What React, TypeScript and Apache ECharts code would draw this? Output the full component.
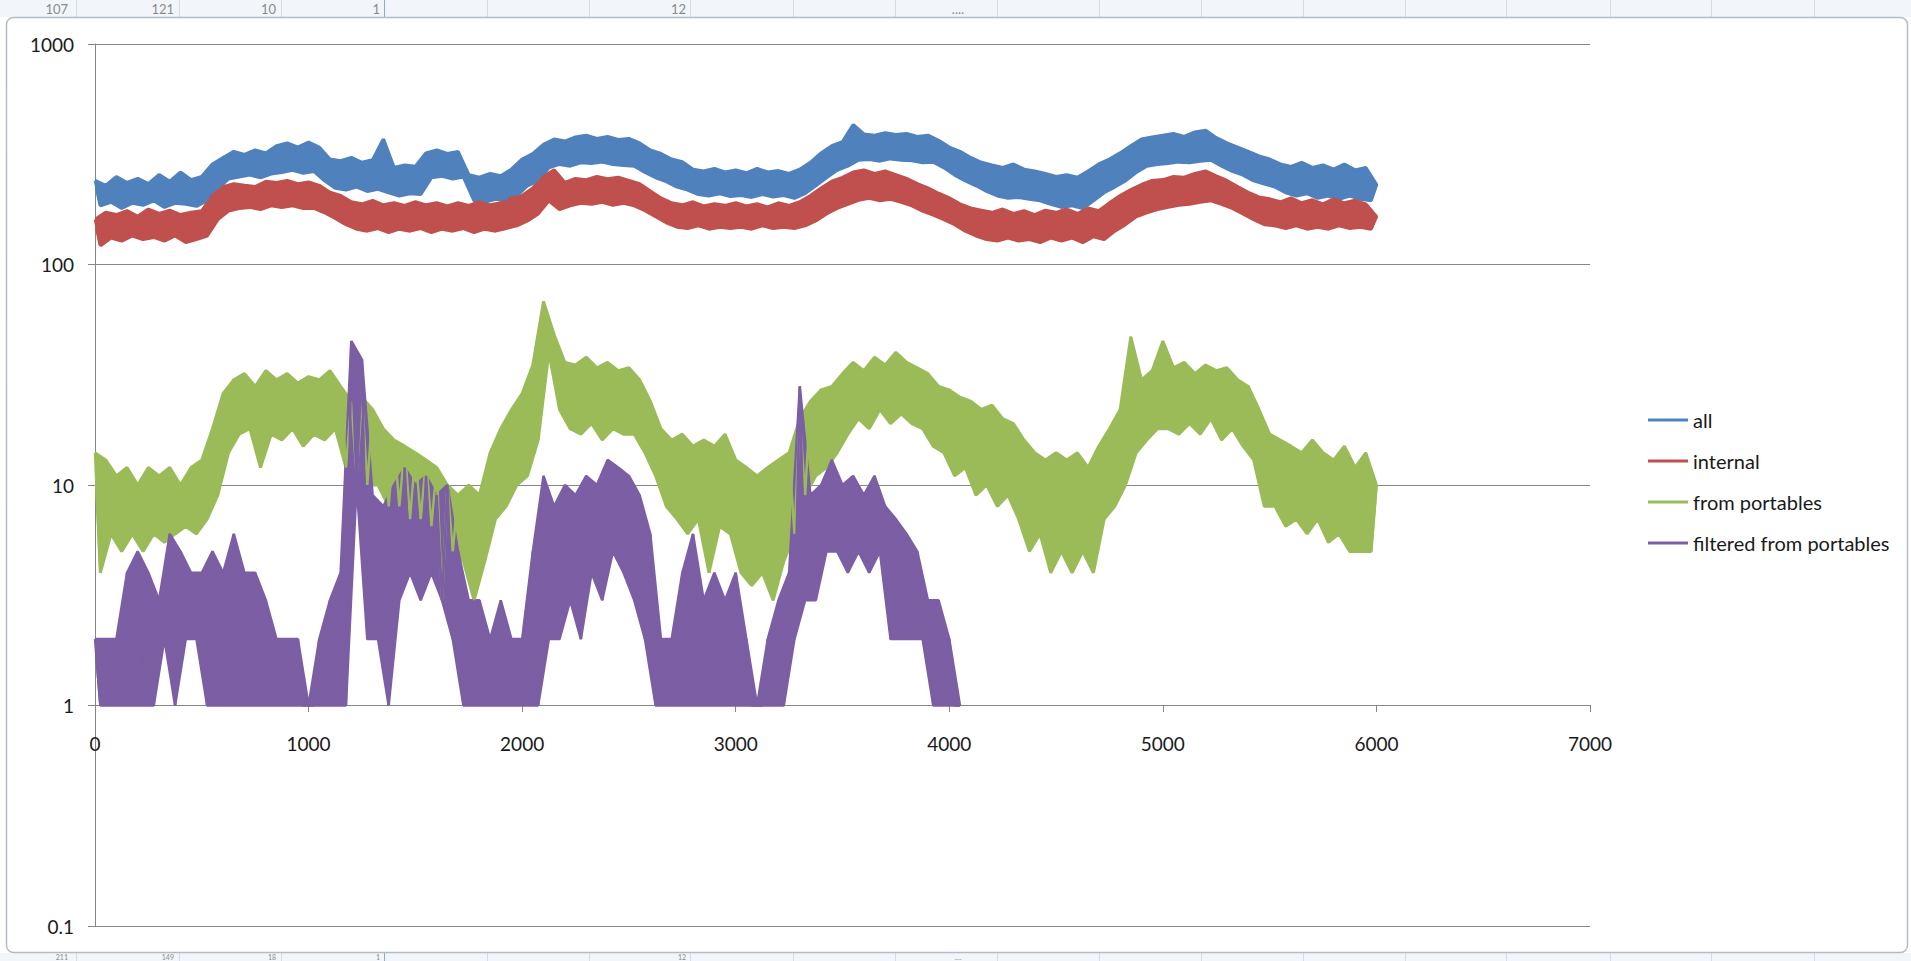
import { useEffect, useRef } from "react";
import * as echarts from "echarts";

// sample spacing along the x axis (data units); even samples are the band's
// upper readings, odd samples its lower readings
const STEP = 25;

const SERIES_NAMES = ["all", "internal", "from portables", "filtered from portables"];

// "all", one value every STEP units from 0 to 6000
const allValues = [
  240, 185, 228, 192, 250, 180, 235, 190, 245, 186, 232, 195, 255, 182, 238, 190, 262, 188, 242, 184,
  250, 195, 285, 220, 305, 245, 325, 250, 315, 255, 330, 248, 320, 258, 345, 262, 355, 268, 340, 260,
  358, 265, 340, 240, 300, 222, 295, 218, 305, 225, 290, 215, 298, 220, 370, 212, 275, 205, 282, 210,
  278, 208, 320, 248, 330, 252, 318, 245, 325, 250, 255, 195, 248, 192, 258, 198, 252, 195, 270, 205,
  300, 228, 318, 240, 350, 275, 370, 285, 362, 280, 378, 290, 385, 288, 372, 292, 380, 285, 368, 282,
  372, 280, 355, 262, 330, 248, 318, 238, 300, 225, 292, 218, 270, 208, 265, 205, 272, 210, 262, 204,
  268, 206, 260, 202, 272, 208, 262, 203, 266, 206, 258, 200, 270, 210, 290, 228, 320, 248, 345, 268,
  360, 280, 430, 298, 390, 300, 385, 295, 395, 302, 388, 298, 392, 296, 380, 290, 385, 292, 365, 275,
  340, 255, 325, 240, 305, 228, 290, 215, 282, 205, 275, 200, 285, 202, 270, 198, 265, 195, 258, 188,
  250, 182, 255, 185, 248, 180, 265, 195, 285, 212, 300, 225, 320, 240, 345, 262, 370, 280, 378, 285,
  385, 288, 392, 292, 380, 290, 398, 295, 405, 298, 375, 280, 355, 265, 340, 255, 325, 240, 310, 232,
  300, 225, 285, 212, 278, 205, 290, 210, 275, 200, 282, 205, 270, 198, 285, 205, 268, 198, 275, 195,
  230,
];

// "internal"
const internalValues = [
  160, 122, 172, 132, 168, 128, 175, 135, 165, 130, 178, 133, 170, 128, 176, 135, 168, 126, 172, 130,
  175, 135, 205, 160, 225, 175, 232, 180, 228, 182, 225, 178, 238, 185, 235, 182, 240, 185, 232, 180,
  236, 180, 228, 172, 212, 162, 205, 152, 192, 145, 188, 142, 195, 146, 186, 140, 190, 145, 185, 142,
  192, 146, 186, 140, 190, 145, 184, 142, 190, 146, 185, 140, 192, 145, 186, 142, 190, 146, 200, 150,
  205, 158, 222, 170, 250, 195, 268, 178, 235, 185, 245, 190, 242, 188, 250, 192, 244, 186, 248, 190,
  240, 185, 232, 176, 215, 165, 200, 155, 190, 148, 186, 146, 192, 150, 184, 145, 188, 148, 185, 146,
  190, 148, 184, 145, 188, 150, 182, 146, 190, 148, 185, 146, 192, 150, 205, 158, 222, 170, 238, 180,
  248, 188, 262, 196, 268, 200, 258, 195, 265, 198, 255, 192, 245, 185, 232, 175, 222, 168, 210, 160,
  200, 152, 188, 142, 180, 135, 176, 130, 172, 128, 178, 132, 170, 128, 175, 130, 168, 126, 176, 132,
  172, 128, 178, 132, 170, 126, 180, 134, 175, 130, 190, 142, 205, 152, 218, 165, 230, 172, 240, 178,
  242, 182, 250, 186, 248, 188, 258, 192, 265, 195, 252, 188, 240, 180, 225, 170, 212, 160, 202, 152,
  198, 150, 192, 146, 200, 150, 190, 145, 196, 148, 188, 145, 198, 150, 190, 146, 195, 148, 188, 145,
  165,
];

// "from portables"
const portablesValues = [
  14, 4, 13, 6, 11, 5, 12, 6, 10, 5, 12, 6, 11, 5.5, 12, 6, 10, 6.5, 12, 6,
  13, 7, 18, 9, 26, 14, 30, 17, 32, 18, 28, 12, 33, 17, 30, 16, 32, 18, 29, 15,
  31, 17, 30, 16, 33, 18, 28, 12, 24, 11, 25, 10, 22, 10, 18, 8, 16, 8, 15, 7,
  14, 7, 13, 6.5, 12, 3, 10, 5, 9, 4.5, 10, 3, 9, 4.5, 14, 7, 18, 8, 22, 10,
  26, 11, 35, 16, 68, 40, 48, 22, 36, 18, 35, 17, 38, 19, 34, 16, 36, 18, 33, 17,
  34, 17, 30, 14, 24, 11, 18, 8, 16, 7, 17, 6, 15, 7, 16, 4, 15, 6.5, 17, 6,
  13, 4, 12, 3.5, 11, 4, 12, 3, 13, 4.5, 14, 6, 20, 9, 24, 11, 27, 12, 28, 14,
  32, 17, 36, 20, 33, 18, 38, 22, 35, 19, 40, 21, 36, 19, 34, 18, 32, 15, 28, 14,
  27, 11, 25, 12, 24, 9, 22, 10, 23, 8, 20, 9, 19, 7, 16, 5, 14, 6, 13, 4,
  14, 5, 13, 4, 14, 5, 12, 4, 15, 7, 18, 8, 22, 10, 47, 14, 30, 16, 33, 18,
  45, 18, 34, 17, 36, 19, 32, 17, 35, 20, 33, 16, 34, 18, 30, 15, 28, 13, 22, 8,
  17, 8, 16, 6.5, 15, 7, 14, 6, 16, 7, 14, 5.5, 13, 6, 15, 5, 12, 5, 14, 5,
  10,
];

// "filtered from portables" (0 to 4050)
const filteredValues = [
  2, 1, 2, 1, 2, 1, 4, 1, 5, 1, 4, 1, 3, 2, 6, 1, 5, 2, 4, 2,
  4, 1, 5, 1, 4, 1, 6, 1, 4, 1, 4, 1, 3, 1, 2, 1, 2, 1, 2, 1,
  1, 1, 2, 1, 3, 1, 4, 1, 45, 10, 37, 2, 9, 2, 8, 1, 10, 3, 12, 4,
  10, 3, 11, 4, 9, 3, 10, 2, 5, 1, 3, 1, 3, 1, 2, 1, 3, 1, 2, 1,
  2, 1, 5, 1, 11, 2, 8, 2, 10, 3, 9, 2, 11, 4, 10, 3, 13, 5, 12, 4,
  11, 3, 9, 2, 6, 1, 2, 1, 2, 1, 4, 1, 6, 1, 3, 1, 4, 1, 3, 1,
  4, 1, 2, 1, 1, 1, 2, 1, 3, 1, 4, 2, 28, 3, 9, 3, 10, 5, 13, 5,
  10, 4, 11, 5, 9, 4, 11, 5, 8, 2, 7, 2, 6, 2, 5, 2, 3, 1, 3, 1,
  2, 1, 1,
];

const SERIES_VALUES = [allValues, internalValues, portablesValues, filteredValues];
const SERIES_COLORS = ["#4F81BD", "#C0504D", "#9BBB59", "#7B5EA3"];
const BAND_EDGE_WIDTHS = [3.5, 3.5, 3, 2.5];

// axis ranges
const X_MIN = 0;
const X_MAX = 7000;
const X_INTERVAL = 1000;
const Y_MIN = 0.1;
const Y_MAX = 1000;

// spreadsheet cells peeking above and below the chart object
const TOP_CELL_TEXTS = ["107", "121", "10", "1", "12", "...."];
const BOTTOM_CELL_TEXTS = ["211", "149", "18", "1", "12", "...."];

const toPoints = (vals: number[]) => vals.map((v, i) => [i * STEP, v]);

const FONT = "Lato, 'Open Sans', sans-serif";

function buildGraphic() {
  const cellXs = [76, 179, 281, 384, 487, 589, 690, 793, 895, 997, 1099, 1201, 1303, 1405, 1506, 1610, 1711, 1814];
  const textXs = [68, 174, 276, 380, 686, 958];
  const els: any[] = [];
  els.push({ type: "rect", shape: { x: 0, y: 0, width: 1911, height: 17 }, style: { fill: "#f2f6fb" }, z: -2, silent: true });
  els.push({ type: "rect", shape: { x: 0, y: 953, width: 1911, height: 8 }, style: { fill: "#f2f6fb" }, z: -2, silent: true });
  cellXs.forEach((x) => {
    const c = x === 384 ? "#8fa8d8" : "#d3dbe4";
    els.push({ type: "line", shape: { x1: x + 0.5, y1: 0, x2: x + 0.5, y2: 17 }, style: { stroke: c, lineWidth: 1 }, z: -1, silent: true });
    els.push({ type: "line", shape: { x1: x + 0.5, y1: 953, x2: x + 0.5, y2: 961 }, style: { stroke: c, lineWidth: 1 }, z: -1, silent: true });
  });
  TOP_CELL_TEXTS.forEach((t, i) => {
    els.push({
      type: "text", x: textXs[i], y: 15, z: -1, silent: true,
      style: { text: t, fill: "#8a8a8a", font: `13px ${FONT}`, align: i === 5 ? "center" : "right", verticalAlign: "bottom" },
    });
  });
  BOTTOM_CELL_TEXTS.forEach((t, i) => {
    els.push({
      type: "text", x: textXs[i], y: 953, z: -1, silent: true,
      style: { text: t, fill: "#8a8a8a", font: `7px ${FONT}`, align: i === 5 ? "center" : "right", verticalAlign: "top" },
    });
  });
  els.push({
    type: "rect", z: -1, silent: true,
    shape: { x: 6.5, y: 17.5, width: 1901, height: 935, r: 7 },
    style: { fill: "#ffffff", stroke: "#b3bcc6", lineWidth: 1.5 },
  });
  return els;
}

// filled band between the upper (even) and lower (odd) readings of a series,
// placed through the axes with api.coord
function bandSeries(name: string, vals: number[], color: string, edge: number) {
  const upper: number[][] = [];
  const lower: number[][] = [];
  vals.forEach((v, i) => (i % 2 === 0 ? upper : lower).push([i * STEP, v]));
  return {
    type: "custom",
    name: `${name} band`,
    silent: true,
    clip: true,
    data: [upper[0]],
    encode: { x: 0, y: 1 },
    renderItem: (_params: any, api: any) => {
      const pts = [
        ...upper.map((p) => api.coord(p)),
        ...lower.slice().reverse().map((p) => api.coord(p)),
      ];
      return {
        type: "polygon",
        shape: { points: pts },
        style: { fill: color, stroke: color, lineWidth: edge, lineJoin: "bevel" },
      };
    },
  };
}

export default function App() {
  const ref = useRef<HTMLDivElement>(null);

  useEffect(() => {
    if (!ref.current) return;
    const chart = echarts.init(ref.current, null, { renderer: "svg" });
    const series: any[] = [];
    SERIES_NAMES.forEach((name, i) => {
      series.push(bandSeries(name, SERIES_VALUES[i], SERIES_COLORS[i], BAND_EDGE_WIDTHS[i]));
      series.push({
        name,
        type: "line",
        data: toPoints(SERIES_VALUES[i]),
        showSymbol: false,
        symbol: "none",
        lineStyle: { width: 2.5, color: SERIES_COLORS[i], join: "bevel" },
        itemStyle: { color: SERIES_COLORS[i] },
        emphasis: { disabled: true },
      });
    });
    const option: any = {
      animation: false,
      backgroundColor: "#ffffff",
      textStyle: { fontFamily: FONT },
      graphic: buildGraphic(),
      grid: { left: 95, right: 321, top: 44, bottom: 35, containLabel: false },
      xAxis: {
        type: "value",
        min: X_MIN,
        max: X_MAX,
        interval: X_INTERVAL,
        offset: -221,
        axisLine: { show: true, lineStyle: { color: "#868686", width: 1 } },
        axisTick: { show: true, length: 7, lineStyle: { color: "#868686" } },
        axisLabel: {
          margin: 29,
          fontSize: 19,
          color: "#1a1a1a",
          fontFamily: FONT,
          formatter: (v: number) => String(v),
        },
        splitLine: { show: false },
      },
      yAxis: {
        type: "log",
        logBase: 10,
        min: Y_MIN,
        max: Y_MAX,
        splitNumber: 4,
        axisLine: { show: true, lineStyle: { color: "#868686", width: 1 } },
        axisTick: { show: true, length: 7, lineStyle: { color: "#868686" } },
        axisLabel: {
          margin: 21,
          fontSize: 19,
          color: "#1a1a1a",
          fontFamily: FONT,
          formatter: (v: number) => (v < 1 ? Number(v).toFixed(1) : String(Math.round(v))),
        },
        splitLine: { show: true, lineStyle: { color: "#868686", width: 1 } },
      },
      legend: {
        orient: "vertical",
        left: 1643,
        top: 405,
        icon: "rect",
        itemWidth: 40,
        itemHeight: 3,
        itemGap: 21,
        textStyle: { fontSize: 20, color: "#1a1a1a", fontFamily: FONT },
        data: SERIES_NAMES,
      },
      series,
    };
    chart.setOption(option);
    return () => chart.dispose();
  }, []);

  return (
    <div
      ref={ref}
      style={{ position: "fixed", left: 0, top: 0, width: 1911, height: 961, background: "#fff" }}
    />
  );
}
